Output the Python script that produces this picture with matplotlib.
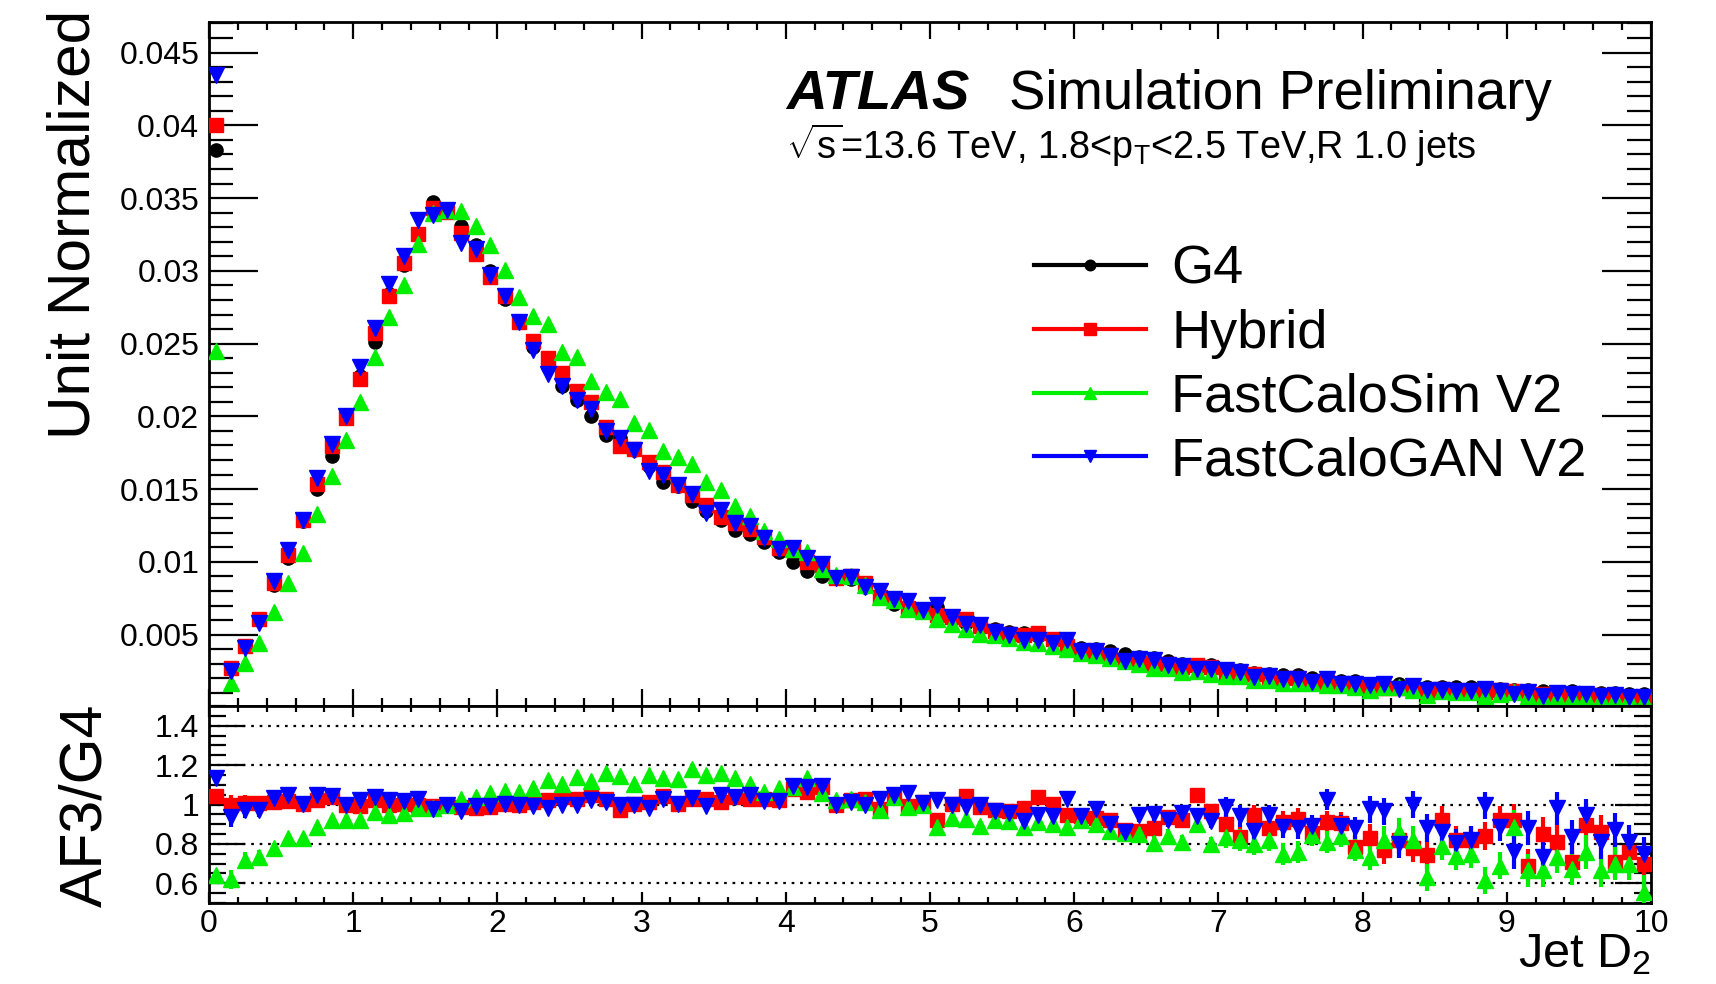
import matplotlib
matplotlib.use("Agg")
import matplotlib.pyplot as plt
from matplotlib.lines import Line2D
from matplotlib.ticker import FixedLocator, MultipleLocator, FuncFormatter
import numpy as np

plt.rcParams['font.family'] = ['Liberation Sans', 'DejaVu Sans']
plt.rcParams['mathtext.fontset'] = 'custom'
plt.rcParams['mathtext.rm'] = 'Liberation Sans'
plt.rcParams['mathtext.it'] = 'Liberation Sans:italic'
plt.rcParams['mathtext.bf'] = 'Liberation Sans:bold'

# bin centres of Jet D2 (0..10, 100 bins)
bin_edges = np.linspace(0, 10, 101)
d2 = 0.5 * (bin_edges[:-1] + bin_edges[1:])

# G4 unit-normalised distribution
g4 = [0.0383, 0.0027, 0.0042, 0.0060, 0.0084, 0.0103, 0.0128, 0.0150, 0.0173, 0.0200,
      0.0228, 0.0251, 0.0284, 0.0304, 0.0325, 0.0347, 0.0342, 0.0331, 0.0318, 0.0300,
      0.0281, 0.0265, 0.0248, 0.0234, 0.0221, 0.0211, 0.0200, 0.0187, 0.0185, 0.0177,
      0.0166, 0.0155, 0.0152, 0.0142, 0.0135, 0.0129, 0.0122, 0.0119, 0.0114, 0.0107,
      0.0100, 0.0094, 0.0090, 0.0089, 0.0088, 0.0083, 0.0078, 0.0071, 0.0069, 0.0066,
      0.0069, 0.0062, 0.0058, 0.0057, 0.0054, 0.0052, 0.0051, 0.0049, 0.0047, 0.0045,
      0.0041, 0.0040, 0.0039, 0.0037, 0.0035, 0.0034, 0.0032, 0.0030, 0.0028, 0.0029,
      0.0026, 0.0026, 0.0024, 0.0023, 0.0022, 0.0022, 0.0020, 0.0019, 0.0018, 0.0018,
      0.0016, 0.0017, 0.0016, 0.0015, 0.0014, 0.0014, 0.0014, 0.0014, 0.0013, 0.0013,
      0.0012, 0.0012, 0.0011, 0.0010, 0.0011, 0.00096, 0.00096, 0.00096, 0.00092, 0.00092]

# ratios to G4
r_hybrid = [1.045, 1.0, 1.01, 1.01, 1.015, 1.02, 1.005, 1.025, 1.04, 0.995,
            0.99, 1.025, 0.995, 1.005, 1.0, 0.99, 0.995, 0.985, 0.98, 0.985,
            1.005, 1.0, 1.015, 1.025, 1.04, 1.03, 1.05, 1.03, 0.97, 1.005,
            1.015, 1.045, 1.005, 1.03, 1.03, 1.015, 1.04, 1.03, 1.03, 1.025,
            1.08, 1.065, 1.09, 1.0, 1.025, 1.03, 0.975, 1.05, 0.99, 1.015,
            0.92, 1.005, 1.045, 0.985, 0.97, 0.965, 0.98, 1.04, 1.005, 0.945,
            0.94, 0.93, 0.92, 0.87, 0.865, 0.88, 0.935, 0.92, 1.05, 0.965,
            0.9, 0.835, 0.945, 0.88, 0.91, 0.925, 0.855, 0.91, 0.905, 0.785,
            0.83, 0.77, 0.82, 0.78, 0.745, 0.92, 0.82, 0.82, 0.84, 0.92,
            0.92, 0.69, 0.85, 0.81, 0.71, 0.895, 0.86, 0.71, 0.76, 0.7]

r_fcs = [0.64, 0.62, 0.72, 0.735, 0.78, 0.83, 0.83, 0.885, 0.92, 0.92,
         0.92, 0.96, 0.945, 0.955, 0.98, 0.98, 1.0, 1.03, 1.04, 1.06,
         1.07, 1.065, 1.085, 1.125, 1.105, 1.14, 1.12, 1.16, 1.145, 1.105,
         1.15, 1.135, 1.13, 1.18, 1.15, 1.16, 1.135, 1.105, 1.065, 1.085,
         1.09, 1.135, 1.06, 1.025, 1.03, 1.015, 0.97, 1.04, 0.985, 1.0,
         0.885, 0.93, 0.925, 0.89, 0.92, 0.915, 0.885, 0.91, 0.9, 0.885,
         0.92, 0.9, 0.865, 0.855, 0.85, 0.805, 0.84, 0.81, 0.9, 0.8,
         0.835, 0.82, 0.8, 0.82, 0.75, 0.76, 0.845, 0.81, 0.84, 0.77,
         0.735, 0.82, 0.86, 0.82, 0.63, 0.79, 0.74, 0.75, 0.615, 0.69,
         0.885, 0.665, 0.665, 0.735, 0.675, 0.76, 0.665, 0.7, 0.7, 0.555]

r_gan = [1.135, 0.935, 0.97, 0.97, 1.035, 1.05, 1.005, 1.05, 1.045, 1.0,
         1.025, 1.04, 1.025, 1.02, 1.03, 0.975, 1.0, 0.965, 0.99, 0.99,
         1.005, 1.0, 0.99, 0.98, 1.0, 1.0, 1.025, 1.015, 1.0, 1.0,
         0.98, 1.03, 1.005, 1.035, 0.99, 1.05, 1.04, 1.05, 1.02, 1.02,
         1.095, 1.09, 1.095, 1.0, 1.015, 1.0, 1.03, 1.05, 1.06, 1.01,
         1.025, 1.0, 0.985, 1.0, 0.965, 0.955, 0.915, 0.945, 0.94, 1.03,
         0.94, 0.975, 0.9, 0.86, 0.945, 0.95, 0.92, 0.955, 0.94, 0.915,
         0.985, 0.94, 0.865, 0.945, 0.885, 0.88, 0.89, 1.025, 0.89, 0.88,
         0.975, 0.965, 0.8, 1.0, 0.88, 0.86, 0.805, 0.82, 0.995, 0.885,
         0.76, 0.88, 0.735, 0.98, 0.835, 0.945, 0.81, 0.87, 0.81, 0.75]

# statistical error on the ratio
ratio_err = [0.02, 0.05, 0.04, 0.035, 0.025, 0.015, 0.015, 0.015, 0.015, 0.015,
             0.01, 0.01, 0.01, 0.01, 0.01, 0.01, 0.01, 0.01, 0.01, 0.01,
             0.01, 0.01, 0.01, 0.01, 0.01, 0.01, 0.01, 0.01, 0.01, 0.01,
             0.01, 0.01, 0.01, 0.01, 0.01, 0.01, 0.01, 0.01, 0.01, 0.01,
             0.015, 0.015, 0.015, 0.015, 0.015, 0.015, 0.015, 0.015, 0.015, 0.015,
             0.025, 0.025, 0.025, 0.025, 0.025, 0.025, 0.025, 0.025, 0.025, 0.025,
             0.035, 0.035, 0.035, 0.035, 0.035, 0.035, 0.035, 0.035, 0.035, 0.035,
             0.055, 0.055, 0.055, 0.055, 0.055, 0.055, 0.055, 0.055, 0.055, 0.055,
             0.07, 0.07, 0.07, 0.07, 0.07, 0.07, 0.07, 0.07, 0.07, 0.07,
             0.085, 0.085, 0.085, 0.085, 0.085, 0.085, 0.085, 0.085, 0.085, 0.085]

labels = ['G4', 'Hybrid', 'FastCaloSim V2', 'FastCaloGAN V2']
colors = ['#000000', '#ff0000', '#00ee00', '#0000ff']
markers = ['o', 's', '^', 'v']
msizes = [9.5, 10.5, 11, 11]

g4_arr = np.array(g4)
ratios = [np.array(r_hybrid), np.array(r_fcs), np.array(r_gan)]
series = [g4_arr] + [g4_arr * r for r in ratios]

W, H = 1716, 984
fig = plt.figure(figsize=(W / 100, H / 100), dpi=100)
left, right = 209 / W, 1651 / W
ax = fig.add_axes([left, 1 - 706 / H, right - left, (706 - 22) / H])
axr = fig.add_axes([left, 1 - 903 / H, right - left, (903 - 706) / H])

for y, c, m, ms in zip(series, colors, markers, msizes):
    ax.plot(d2, y, ls='none', marker=m, color=c, ms=ms, mec=c, zorder=3)

ax.set_xlim(0, 10)
ax.set_ylim(0.0001, 0.0471)

for v in [0.6, 0.8, 1.0, 1.2, 1.4]:
    axr.axhline(v, color='k', ls=(0, (1.2, 2.6)), lw=1.6, zorder=1)
for r, c, m, ms in zip(ratios, colors[1:], markers[1:], msizes[1:]):
    axr.errorbar(d2, r, yerr=ratio_err, ls='none', marker=m, color=c, ms=ms,
                 mec=c, elinewidth=3, capsize=0, zorder=3)
axr.set_xlim(0, 10)
axr.set_ylim(0.5, 1.5)

fmt = FuncFormatter(lambda v, p: '%g' % round(v, 4))
for a in (ax, axr):
    for s in a.spines.values():
        s.set_linewidth(2)
    a.xaxis.set_major_locator(MultipleLocator(1))
    a.xaxis.set_minor_locator(MultipleLocator(0.2))
    a.tick_params(which='both', direction='in', top=True, right=True, width=1.6,
                  labelsize=23)
    a.yaxis.set_major_formatter(fmt)

ax.yaxis.set_major_locator(FixedLocator([0.005 * k for k in range(1, 10)]))
ax.yaxis.set_minor_locator(MultipleLocator(0.001))
ax.tick_params(axis='x', which='major', length=12.5, labelbottom=False)
ax.tick_params(axis='x', which='minor', length=6)
ax.tick_params(axis='y', which='major', length=35, pad=7)
ax.tick_params(axis='y', which='minor', length=17.5)

axr.yaxis.set_major_locator(FixedLocator([0.6, 0.8, 1.0, 1.2, 1.4]))
axr.yaxis.set_minor_locator(MultipleLocator(0.05))
axr.tick_params(axis='x', which='major', length=8, pad=4)
axr.tick_params(axis='x', which='minor', length=4)
axr.tick_params(axis='y', which='major', length=26, pad=7)
axr.tick_params(axis='y', which='minor', length=12)

fig.text(74 / W, 1 - 10 / H, 'Unit Normalized', rotation=90, ha='center', va='top',
         fontsize=43.5)
fig.text(86 / W, 1 - 805 / H, 'AF3/G4', rotation=90, ha='center', va='center',
         fontsize=42.5)
fig.text(right, 1 - 967 / H, r'Jet D$_{2}$', ha='right', va='baseline', fontsize=35)

fig.text(786 / W, 1 - 109 / H, 'ATLAS', fontsize=40.5, weight='bold', style='italic')
fig.text(1009 / W, 1 - 109 / H, 'Simulation Preliminary', fontsize=39.3)
fig.text(786 / W, 1 - 159 / H,
         r'$\sqrt{\mathrm{s}}$=13.6 TeV, 1.8<p$_{\mathrm{T}}$<2.5 TeV,R 1.0 jets',
         fontsize=27.3)

handles = [Line2D([], [], color=c, lw=3, marker=m, ms=ms * 0.8, mec=c)
           for c, m, ms in zip(colors, markers, msizes)]
ax.legend(handles, labels, loc='upper left', bbox_to_anchor=(1034 / W, 1 - 245 / H),
          bbox_transform=fig.transFigure, frameon=False, fontsize=39,
          handlelength=2.07, handletextpad=0.46, labelspacing=0.255,
          borderpad=0, borderaxespad=0)

fig.savefig('out.png', dpi=100)
